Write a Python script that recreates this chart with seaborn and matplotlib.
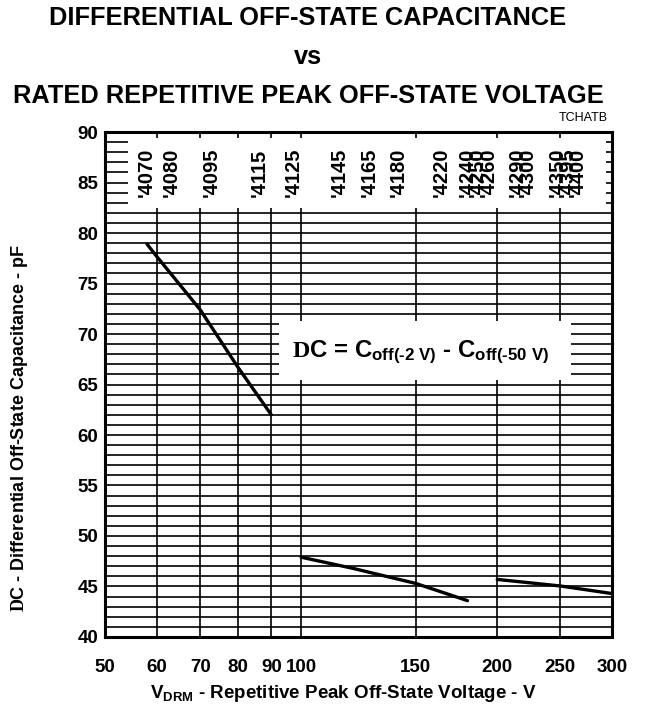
import numpy as np
import pandas as pd
import seaborn as sns
import matplotlib.pyplot as plt

# curve data (V_DRM in V, delta C in pF)
seg1_v = [58, 60, 70, 80, 90]
seg1_c = [78.9, 77.7, 72.4, 66.7, 62.0]
seg2_v = [100, 120, 150, 180]
seg2_c = [47.9, 46.8, 45.3, 43.6]
seg3_v = [200, 250, 300]
seg3_c = [45.7, 45.05, 44.3]

# device part numbers and where they sit on the voltage axis
parts = ["'4070", "'4080", "'4095", "'4115", "'4125", "'4145", "'4165", "'4180",
         "'4220", "'4240", "'4250", "'4260", "'4290", "'4300", "'4350", "'4395", "'4400"]
part_v = [57.9, 63.1, 72.7, 86.2, 97.4, 114.6, 127.4, 140.9,
          164.2, 179.8, 186.5, 193.5, 214.6, 222.6, 246.9, 256.0, 265.6]

x_ticks = [50, 60, 70, 80, 90, 100, 150, 200, 250, 300]
y_ticks = list(range(40, 91, 5))

df = pd.DataFrame({
    "voltage": seg1_v + seg2_v + seg3_v,
    "cap": seg1_c + seg2_c + seg3_c,
    "seg": [1] * len(seg1_v) + [2] * len(seg2_v) + [3] * len(seg3_v),
})

sns.set_style("white")
plt.rcParams["font.family"] = ["Liberation Sans", "DejaVu Sans"]
plt.rcParams["font.weight"] = "bold"
for k in ["text.color", "axes.labelcolor", "xtick.color", "ytick.color"]:
    plt.rcParams[k] = "black"
plt.rcParams["mathtext.fontset"] = "custom"
plt.rcParams["mathtext.rm"] = "Liberation Serif:bold"
plt.rcParams["mathtext.sf"] = "Liberation Sans:bold"
plt.rcParams["mathtext.bf"] = "Liberation Sans:bold"
plt.rcParams["mathtext.it"] = "Liberation Sans:bold"
plt.rcParams["mathtext.default"] = "bf"

fig = plt.figure(figsize=(6.45, 7.11), dpi=100)
ax = fig.add_axes([0.1628, 0.1041, 0.7860, 0.7102])

sns.lineplot(data=df, x="voltage", y="cap", units="seg", estimator=None,
             color="black", lw=2.4, ax=ax, zorder=3)

ax.set_xscale("log")
ax.set_xlim(50, 300)
ax.set_ylim(40, 90)
ax.set_xticks(x_ticks)
ax.set_xticklabels([str(t) for t in x_ticks])
ax.xaxis.set_minor_locator(plt.FixedLocator([100]))
ax.xaxis.set_minor_formatter(plt.NullFormatter())
ax.set_yticks(y_ticks)
ax.set_yticks(range(40, 91), minor=True)

ax.grid(True, which="major", axis="x", color="black", lw=1.2)
ax.grid(True, which="both", axis="y", color="black", lw=1.2)
ax.set_axisbelow(True)

ax.tick_params(axis="x", which="major", length=0, pad=16, labelsize=13.5)
ax.tick_params(axis="x", which="minor", length=10, width=1, direction="out")
ax.tick_params(axis="y", which="both", length=0, pad=5, labelsize=13.5)
for lab in ax.get_xticklabels() + ax.get_yticklabels():
    lab.set_fontweight("bold")

for s in ax.spines.values():
    s.set_linewidth(2.2)
    s.set_color("black")

# white panels hiding the grid
ax.fill_between([54.2, 293.6], 82.5, 89.4, color="white", lw=0, zorder=1)
ax.fill_between([92.5, 260], 65.45, 71.3, color="white", lw=0, zorder=1)

for name, v in zip(parts, part_v):
    ax.text(v, 86.0, name, rotation=90, ha="center", va="center",
            fontsize=14.5, fontweight="bold", zorder=4)

ax.text(152.7, 68.2,
        "$\\mathrm{D}$C = C$_{\\mathsf{off(\u20102\\ V)}}$ \u2010 C$_{\\mathsf{off(\u201050\\ V)}}$",
        ha="center", va="center", fontsize=17.3, fontweight="bold", zorder=4)

ax.set_xlabel("")
ax.set_ylabel("")
fig.text(343 / 645, 1 - 693 / 711,
         r"V$_{\mathsf{DRM}}$ - Repetitive Peak Off-State Voltage - V",
         ha="center", va="center", fontsize=13.5, fontweight="bold")
fig.text(20 / 645, 1 - 428 / 711,
         r"$\mathrm{D}$C - Differential Off-State Capacitance - pF",
         rotation=90, ha="center", va="center", fontsize=13, fontweight="bold")

fig.text(308 / 645, 1 - 18 / 711, "DIFFERENTIAL OFF-STATE CAPACITANCE",
         ha="center", va="center", fontsize=18.3, fontweight="bold")
fig.text(308 / 645, 1 - 57 / 711, "vs",
         ha="center", va="center", fontsize=18.3, fontweight="bold")
fig.text(308 / 645, 1 - 96 / 711, "RATED REPETITIVE PEAK OFF-STATE VOLTAGE",
         ha="center", va="center", fontsize=18.3, fontweight="bold")
fig.text(608 / 645, 1 - 118 / 711, "TCHATB",
         ha="right", va="center", fontsize=9, fontweight="normal")

fig.savefig("out.png", dpi=100)
